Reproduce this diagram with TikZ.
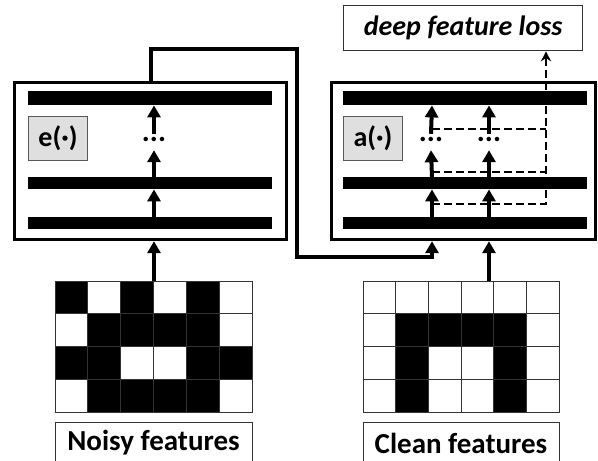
\documentclass[tikz,border=0pt]{standalone}
\usepackage{fontspec}
\setmainfont{Carlito}
\usetikzlibrary{arrows.meta}
\begin{document}
\begin{tikzpicture}[x=1pt,y=-1pt,
  box/.style={draw, line width=3.2pt, inner sep=0, anchor=north west, minimum width=#1, minimum height=157pt},
  bar/.style={fill=black, inner sep=0, anchor=north west, minimum width=244pt, minimum height=#1},
  fn/.style={draw=gray!70!black, fill=gray!25, line width=1pt, inner sep=0, anchor=north west,
    minimum width=59pt, minimum height=44pt, font=\bfseries\fontsize{28}{30}\selectfont},
  dotsnode/.style={inner sep=0, minimum height=16pt, minimum width=18pt, font=\bfseries\fontsize{30}{30}\selectfont},
  arr/.style={line width=4pt, -{Triangle[length=12pt,width=13pt]}},
  dsh/.style={line width=2.2pt, dash pattern=on 8pt off 4pt},
  lbl/.style={draw=gray!40!black, line width=1.3pt, inner sep=0, anchor=north west,
    minimum width=197pt, minimum height=50pt},
  cellB/.style={fill=black},
  gridln/.style={draw=gray!40!black, line width=1pt}
]
\useasboundingbox (0,0) rectangle (598,461);
% encoder box
\node[box=272pt] (ebox) at (13,81) {};
\node[bar=14pt] (eb1) at (28,91) {};
\node[bar=12pt] (eb2) at (28,177) {};
\node[bar=12pt] (eb3) at (28,217) {};
\node[fn] (efn) at (28,116) {e(·)};
\node[dotsnode] (edots) at (154,142) {\raisebox{0.35ex}{...}};
% a box
\node[box=264pt] (abox) at (330,81) {};
\node[bar=14pt] (ab1) at (343,91) {};
\node[bar=12pt] (ab2) at (343,177) {};
\node[bar=12pt] (ab3) at (343,217) {};
\node[fn] (afn) at (343,116) {a(·)};
\node[dotsnode] (adots1) at (431,142) {\raisebox{0.35ex}{...}};
\node[dotsnode] (adots2) at (489,142) {\raisebox{0.35ex}{...}};
% loss box
\node[draw=gray!40!black, line width=1.3pt, inner sep=0, anchor=north west,
  minimum width=239pt, minimum height=45pt,
  font=\bfseries\itshape\fontsize{28}{30}\selectfont] (loss) at (343,5) {deep feature loss};
% x positions
\coordinate (ex) at (154,0);
\coordinate (etop) at (151,0);
\coordinate (ax1) at (432,0);
\coordinate (ax2) at (489,0);
\coordinate (dx) at (546,0);
% grids
\begin{scope}[shift={(55,281)}]
  \foreach \c/\r in {0/0,2/0,4/0, 1/1,2/1,3/1,4/1, 0/2,1/2,4/2,5/2, 1/3,2/3,3/3,4/3}
    \fill[cellB] (\c*32.83,\r*32.75) rectangle ++(32.83,32.75);
  \foreach \i in {1,...,5} \draw[gridln] (\i*32.83,0) -- (\i*32.83,131);
  \foreach \j in {1,2,3} \draw[gridln] (0,\j*32.75) -- (197,\j*32.75);
  \node[draw=gray!40!black, line width=1.3pt, inner sep=0, anchor=north west, minimum width=197pt, minimum height=131pt] (ngrid) at (0,0) {};
\end{scope}
\begin{scope}[shift={(363,281)}]
  \foreach \c/\r in {1/1,2/1,3/1,4/1, 1/2,4/2, 1/3,4/3}
    \fill[cellB] (\c*32.67,\r*32.75) rectangle ++(32.67,32.75);
  \foreach \i in {1,...,5} \draw[gridln] (\i*32.67,0) -- (\i*32.67,131);
  \foreach \j in {1,2,3} \draw[gridln] (0,\j*32.75) -- (196,\j*32.75);
  \node[draw=gray!40!black, line width=1.3pt, inner sep=0, anchor=north west, minimum width=196pt, minimum height=131pt] (cgrid) at (0,0) {};
\end{scope}
% labels
\node[lbl] (nlbl) at (55,422) {};
\node[font=\bfseries\fontsize{29}{31}\selectfont] (ntxt) at (153.5,443) {Noisy features};
\node[lbl, minimum width=196pt] (clbl) at (363,422) {};
\node[font=\bfseries\fontsize{29}{31}\selectfont] (ctxt) at (461,443) {Clean features};
% encoder arrows
\draw[arr] (ngrid.north -| ex) -- (ebox.south -| ex);
\draw[arr] (eb3.north -| ex) -- (eb2.south -| ex);
\draw[arr] (eb2.north -| ex) -- (edots.south);
\draw[arr] (edots.north) -- (eb1.south -| ex);
% connector
\coordinate (k1) at (297,49);
\coordinate (k2) at (297,257);
\draw[arr] (ebox.north -| etop) |- (k1) -- (k2) -| (abox.south -| ax1);
% clean input
\draw[arr] (cgrid.north -| ax2) -- (abox.south -| ax2);
% a arrows
\foreach \x/\d in {ax1/adots1, ax2/adots2} {
  \draw[arr] (ab3.north -| \x) -- (ab2.south -| \x);
  \draw[arr] (ab2.north -| \x) -- (\d.south);
  \draw[arr] (\d.north) -- (ab1.south -| \x);
}
% dashed taps
\coordinate (t1) at (432,129);
\coordinate (t2) at (432,172);
\coordinate (t3) at (432,204);
\draw[dsh] (t1) -- (t1 -| dx);
\draw[dsh] (t2) -- (t2 -| dx);
\draw[dsh, -{Stealth[length=10pt,width=10pt]}] (t3) -| (loss.south -| dx);
\end{tikzpicture}
\end{document}
